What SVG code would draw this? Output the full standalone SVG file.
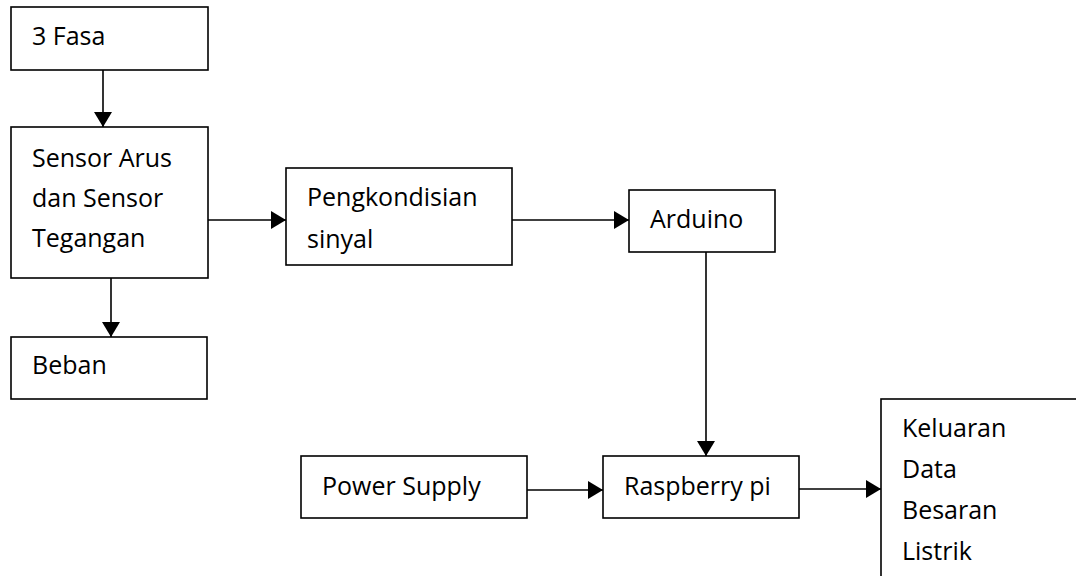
<svg xmlns="http://www.w3.org/2000/svg" width="1076" height="576" viewBox="0 0 1076 576">
<style>
.box{fill:#fff;stroke:#000;stroke-width:1.6}
.lbl{font-family:"Open Sans","Liberation Sans",sans-serif;font-size:25px;fill:#000}
.con{stroke:#000;stroke-width:1.6;fill:none}
</style>
<defs>
<marker id="arr" markerUnits="userSpaceOnUse" markerWidth="16" markerHeight="18" refX="15" refY="9" orient="auto">
<path d="M0,0 L15,9 L0,18 Z" fill="#000"/>
</marker>
</defs>
<rect width="1076" height="576" fill="#fff"/>
<g id="connectors">
<line class="con" x1="103" y1="70" x2="103" y2="127" marker-end="url(#arr)"/>
<line class="con" x1="111" y1="278" x2="111" y2="337" marker-end="url(#arr)"/>
<line class="con" x1="208" y1="220" x2="286" y2="220" marker-end="url(#arr)"/>
<line class="con" x1="512" y1="220" x2="629" y2="220" marker-end="url(#arr)"/>
<line class="con" x1="706" y1="252" x2="706" y2="456" marker-end="url(#arr)"/>
<line class="con" x1="527" y1="490" x2="603" y2="490" marker-end="url(#arr)"/>
<line class="con" x1="799" y1="489" x2="881" y2="489" marker-end="url(#arr)"/>
</g>
<g id="n-3fasa">
<rect class="box" x="11" y="7" width="197" height="63"/>
<text class="lbl" x="32" y="45">3 Fasa</text>
</g>
<g id="n-sensor">
<rect class="box" x="11" y="127" width="197" height="151"/>
<text class="lbl" x="32" y="167">Sensor Arus</text>
<text class="lbl" x="32" y="207">dan Sensor</text>
<text class="lbl" x="32" y="247">Tegangan</text>
</g>
<g id="n-beban">
<rect class="box" x="11" y="337" width="196" height="62"/>
<text class="lbl" x="32" y="374">Beban</text>
</g>
<g id="n-pengkondisian">
<rect class="box" x="286" y="168" width="226" height="97"/>
<text class="lbl" x="307" y="206">Pengkondisian</text>
<text class="lbl" x="307" y="248">sinyal</text>
</g>
<g id="n-arduino">
<rect class="box" x="629" y="190" width="146" height="62"/>
<text class="lbl" x="650" y="228">Arduino</text>
</g>
<g id="n-power">
<rect class="box" x="301" y="456" width="226" height="62"/>
<text class="lbl" x="322" y="495">Power Supply</text>
</g>
<g id="n-raspberry">
<rect class="box" x="603" y="456" width="196" height="62"/>
<text class="lbl" x="624" y="495">Raspberry pi</text>
</g>
<g id="n-keluaran">
<rect class="box" x="881" y="399" width="210" height="200"/>
<text class="lbl" x="902" y="437">Keluaran</text>
<text class="lbl" x="902" y="478">Data</text>
<text class="lbl" x="902" y="519">Besaran</text>
<text class="lbl" x="902" y="560">Listrik</text>
</g>
</svg>
